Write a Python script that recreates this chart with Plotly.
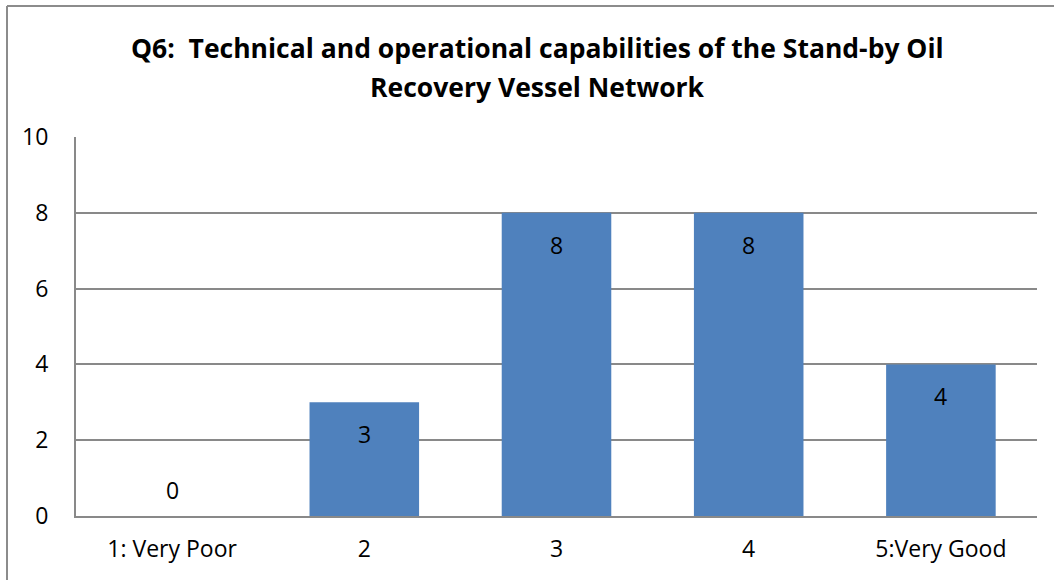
import plotly.graph_objects as go

categories = ["1: Very Poor", "2", "3", "4", "5:Very Good"]
values = [0, 3, 8, 8, 4]
y_ticks = [0, 2, 4, 6, 8, 10]
title_lines = ["Q6:  Technical and operational capabilities of the Stand-by Oil",
               "Recovery Vessel Network"]

FONT = "'Open Sans', sans-serif"

fig = go.Figure()
fig.add_trace(go.Bar(
    x=list(range(len(categories))), y=values,
    marker=dict(color="#4F81BD", line=dict(width=0)),
    hovertext=categories, hoverinfo="text+y",
))

annotations = []
for i, v in enumerate(values):
    annotations.append(dict(
        x=i, y=v, xref="x", yref="y", text=str(v), showarrow=False,
        yshift=-32 if v > 0 else 26,
        font=dict(family=FONT, size=23, color="#000000"),
    ))
for k, (line, py) in enumerate(zip(title_lines, [48, 87])):
    annotations.append(dict(
        x=(537 - 76) / 961, y=(516 - py) / 379, xref="paper", yref="paper", text=line,
        showarrow=False, xanchor="center", yanchor="middle",
        font=dict(family=FONT, size=26.5, color="#000000", weight="bold"),
    ))

fig.update_layout(
    width=1054, height=580,
    margin=dict(l=76, r=17, t=137, b=64),
    paper_bgcolor="white", plot_bgcolor="white",
    bargap=0.43,
    showlegend=False,
    annotations=annotations,
    xaxis=dict(
        range=[-0.5, 4.5], tickvals=list(range(len(categories))), ticktext=categories,
        showgrid=False, showline=True, linecolor="#898989", linewidth=2, zeroline=False,
        ticks="", ticklabelstandoff=11, tickfont=dict(family=FONT, size=23, color="#000000"),
        fixedrange=True,
    ),
    yaxis=dict(
        range=[0, 10], tickvals=y_ticks, showgrid=True, gridcolor="#898989", gridwidth=1.5,
        showline=True, linecolor="#898989", linewidth=2, zeroline=False,
        ticks="", ticklabelstandoff=21,
        tickfont=dict(family=FONT, size=23, color="#000000"),
        fixedrange=True,
    ),
    shapes=[
        dict(type="line", xref="paper", yref="paper",
             x0=(7 - 76) / 961, x1=1.2, y0=(516 - 6) / 379, y1=(516 - 6) / 379,
             line=dict(color="#8C8C8C", width=2)),
        dict(type="line", xref="paper", yref="paper",
             x0=(7 - 76) / 961, x1=(7 - 76) / 961, y0=(516 - 6) / 379, y1=-0.3,
             line=dict(color="#8C8C8C", width=2)),
    ],
)

fig.write_html("out.html", config={"displayModeBar": False},
               post_script="document.body.style.margin='0';")
